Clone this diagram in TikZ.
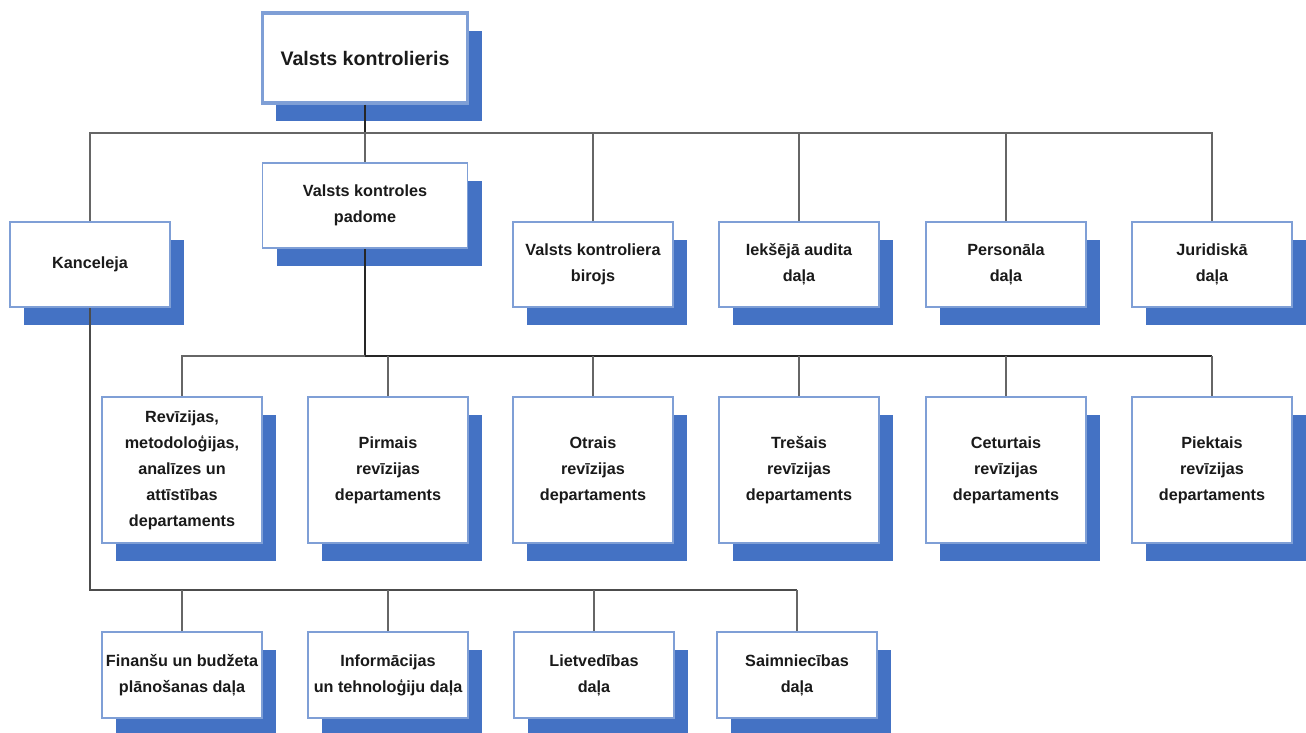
\documentclass[tikz,border=0pt]{standalone}
\usepackage{fontspec}
\setmainfont{Liberation Sans}
\usetikzlibrary{shadows}
\definecolor{shblue}{HTML}{4472C4}
\definecolor{bdblue}{HTML}{7F9FD6}
\definecolor{txt}{HTML}{1A1A1A}
\definecolor{ln}{HTML}{666666}
\tikzset{
  orgbox/.style={draw=bdblue, line width=1.6pt, fill=white, minimum width=160pt,
    inner sep=2pt, align=center, text=txt, font=\bfseries\fontsize{16.2}{26}\selectfont,
    general shadow={fill=shblue, shadow xshift=14pt, shadow yshift=-18pt}},
  rowtwo/.style={orgbox, minimum height=85pt},
  rowthree/.style={orgbox, minimum height=146pt},
  rowfour/.style={orgbox, minimum height=86pt},
  thin/.style={draw=ln, line width=1.8pt},
  bold/.style={draw=black!85, line width=2.2pt},
}
\begin{document}
\begin{tikzpicture}[x=1pt,y=-1pt]
\useasboundingbox (0,0) rectangle (1306,733);
% top
\node[orgbox, line width=3.5pt, minimum width=205pt, minimum height=90pt,
      font=\bfseries\fontsize{19.6}{24}\selectfont,
      general shadow={fill=shblue, shadow xshift=13pt, shadow yshift=-18pt}] (top) at (365,58) {Valsts kontrolieris};
% row 2
\node[rowtwo] (kanc) at (90,264.5) {Kanceleja};
\node[rowtwo, minimum width=205pt] (pad) at (365,205.5) {Valsts kontroles\\padome};
\node[rowtwo] (bir) at (593,264.5) {Valsts kontroliera\\birojs};
\node[rowtwo] (iek) at (799,264.5) {Iekšējā audita\\daļa};
\node[rowtwo] (pers) at (1006,264.5) {Personāla\\daļa};
\node[rowtwo] (jur) at (1212,264.5) {Juridiskā\\daļa};
% row 3
\node[rowthree] (rev) at (182,470) {Revīzijas,\\metodoloģijas,\\analīzes un\\attīstības\\departaments};
\node[rowthree] (pirm) at (388,470) {Pirmais\\revīzijas\\departaments};
\node[rowthree] (otr) at (593,470) {Otrais\\revīzijas\\departaments};
\node[rowthree] (tres) at (799,470) {Trešais\\revīzijas\\departaments};
\node[rowthree] (cet) at (1006,470) {Ceturtais\\revīzijas\\departaments};
\node[rowthree] (piek) at (1212,470) {Piektais\\revīzijas\\departaments};
% row 4
\node[rowfour] (fin) at (182,675) {Finanšu un budžeta\\plānošanas daļa};
\node[rowfour] (inf) at (388,675) {Informācijas\\un tehnoloģiju daļa};
\node[rowfour] (liet) at (594,675) {Lietvedības\\daļa};
\node[rowfour] (saim) at (797,675) {Saimniecības\\daļa};
% bus coordinates
\coordinate (b1) at (365,133);
\coordinate (b2) at (365,356);
\coordinate (b3) at (90,590);
% connectors level 1
\draw[bold] (top.south) -- (b1);
\draw[thin] (kanc.north) -- (kanc.north |- b1) -- (jur.north |- b1) -- (jur.north);
\draw[thin] (b1) -- (pad.north);
\draw[thin] (bir.north) -- (bir.north |- b1);
\draw[thin] (iek.north) -- (iek.north |- b1);
\draw[thin] (pers.north) -- (pers.north |- b1);
% connectors level 2
\draw[bold] (pad.south) -- (b2) -- (piek.north |- b2);
\draw[thin] (b2) -- (rev.north |- b2) -- (rev.north);
\draw[thin] (pirm.north) -- (pirm.north |- b2);
\draw[thin] (otr.north) -- (otr.north |- b2);
\draw[thin] (tres.north) -- (tres.north |- b2);
\draw[thin] (cet.north) -- (cet.north |- b2);
\draw[thin] (piek.north) -- (piek.north |- b2);
% connectors level 3
\draw[bold, draw=black!70] (kanc.south) -- (b3) -- (saim.north |- b3);
\draw[thin] (fin.north) -- (fin.north |- b3);
\draw[thin] (inf.north) -- (inf.north |- b3);
\draw[thin] (liet.north) -- (liet.north |- b3);
\draw[thin] (saim.north) -- (saim.north |- b3);
\end{tikzpicture}
\end{document}
